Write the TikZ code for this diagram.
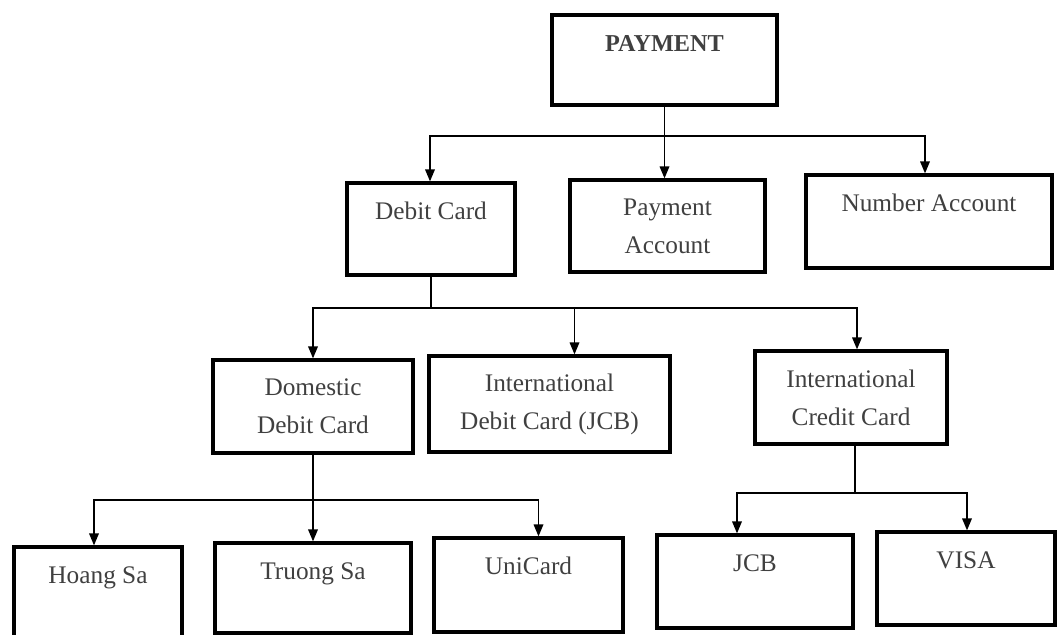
\documentclass[tikz,border=0pt]{standalone}
\usepackage{fontspec}
\setmainfont{Liberation Serif}
\usetikzlibrary{arrows.meta}

\newcommand{\boxfont}{\fontsize{7.2}{10.8}\selectfont}

\tikzset{
  box/.style={draw, line width=0.9pt, inner sep=0pt, align=center,
    font=\boxfont, text=black!75},
  toptext/.style={text height=.36cm, text depth=#1},
  arr/.style={-{Triangle[length=1.2mm,width=0.95mm]}, line width=0.5pt}
}

\begin{document}
\begin{tikzpicture}
  \useasboundingbox (0,0) rectangle (10.62,-6.35);
  % top level
  \node[box, toptext=.54cm, minimum width=2.25cm] (payment) at (6.645,-0.60)
    {\fontsize{6.9}{8}\selectfont\textbf{PAYMENT}};
  \node[box, toptext=.56cm, minimum width=1.68cm] (debit) at (4.31,-2.29) {Debit Card};
  \node[box, minimum width=1.95cm, minimum height=.92cm] (payacc) at (6.675,-2.26)
    {Payment\\Account};
  \node[box, toptext=.57cm, minimum width=2.46cm] (numacc) at (9.29,-2.215) {Number Account};
  % debit cards
  \node[box, minimum width=2.00cm, minimum height=.93cm] (domestic) at (3.13,-4.065)
    {Domestic\\Debit Card};
  \node[box, minimum width=2.41cm, minimum height=.96cm] (intdebit) at (5.495,-4.04)
    {International\\Debit Card (JCB)};
  \node[box, minimum width=1.92cm, minimum height=.93cm] (intcredit) at (8.51,-3.975)
    {International\\Credit Card};
  % bottom row
  \node[box, toptext=.54cm, minimum width=1.68cm] (hoang) at (0.98,-5.92) {Hoang Sa};
  \node[box, toptext=.54cm, minimum width=1.96cm] (truong) at (3.13,-5.88) {Truong Sa};
  \node[box, toptext=.58cm, minimum width=1.89cm] (unicard) at (5.285,-5.85) {UniCard};
  \node[box, toptext=.57cm, minimum width=1.96cm] (jcb) at (7.55,-5.815) {JCB};
  \node[box, toptext=.57cm, minimum width=1.78cm] (visa) at (9.66,-5.785) {VISA};

  % branch levels
  \coordinate (b1) at (0,-1.36);
  \coordinate (b2) at (0,-3.08);
  \coordinate (b3) at (0,-5.00);
  \coordinate (b4) at (0,-4.93);

  \draw[arr] (payment.south) -- (payment.south |- payacc.north);
  \draw[arr] (payment.south |- b1) -| ([xshift=-.1mm]debit.north);
  \draw[arr] (payment.south |- b1) -| ([xshift=-.4mm]numacc.north);

  \draw[arr] (debit.south) |- (b2 -| domestic.north) -- (domestic.north);
  \draw[arr] (debit.south |- b2) -| ([xshift=2.5mm]intdebit.north);
  \draw[arr] (debit.south |- b2) -| ([xshift=.6mm]intcredit.north);

  \draw[arr] (domestic.south) -- (truong.north);
  \draw[arr] (domestic.south |- b3) -| ([xshift=-.4mm]hoang.north);
  \draw[arr] (domestic.south |- b3) -| ([xshift=1mm]unicard.north);

  \draw ([xshift=.4mm]intcredit.south) -- ([xshift=.4mm]intcredit.south |- b4);
  \draw[arr] ([xshift=.4mm]intcredit.south |- b4) -| ([xshift=-1.8mm]jcb.north);
  \draw[arr] ([xshift=.4mm]intcredit.south |- b4) -| ([xshift=.1mm]visa.north);
\end{tikzpicture}
\end{document}
